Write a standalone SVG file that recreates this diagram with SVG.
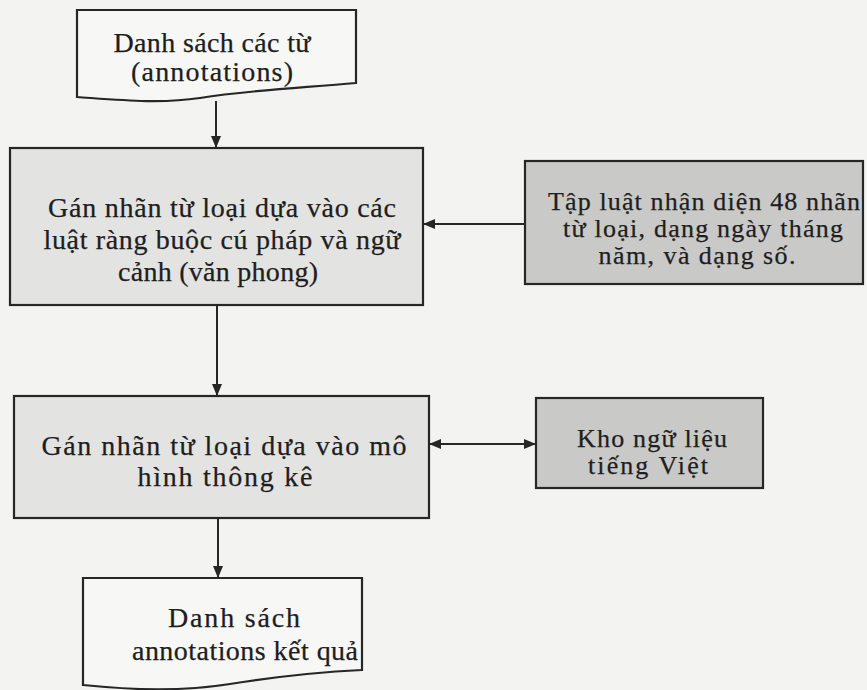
<svg xmlns="http://www.w3.org/2000/svg" width="867" height="690" viewBox="0 0 867 690">
<style>
  .t { font-family: "Liberation Serif", "Times New Roman", serif; font-size: 28px; fill: #1e1e1e; stroke: #1e1e1e; stroke-width: 0.25; }
  .s { font-size: 26px; }
  .box { stroke: #262626; stroke-width: 2.2; }
  .light { fill: #e3e3e1; }
  .dark { fill: #c9c9c7; }
  .doc { fill: #f7f7f5; stroke: #262626; stroke-width: 2.2; }
  .conn { stroke: #262626; stroke-width: 2; fill: none; }
</style>
<defs>
  <marker id="ah" viewBox="0 0 12 10" refX="11" refY="5" markerWidth="12" markerHeight="10" markerUnits="userSpaceOnUse" orient="auto-start-reverse">
    <path d="M0,0 L12,5 L0,10 Z" fill="#262626"/>
  </marker>
</defs>
<rect width="867" height="690" fill="#f3f3f1"/>

<g id="doc-input">
  <path class="doc" d="M77,10 L356,10 L356,83 C300,88 250,90 200,98 C160,104 120,100 77,97 Z"/>
  <text class="t" x="212" y="52" text-anchor="middle" textLength="197" lengthAdjust="spacing">Danh sách các từ</text>
  <text class="t" x="212" y="81" text-anchor="middle" textLength="162" lengthAdjust="spacing">(annotations)</text>
</g>

<g id="step-rules">
  <rect class="box light" x="10" y="148" width="413" height="157"/>
  <text class="t" x="222" y="217" text-anchor="middle" textLength="348" lengthAdjust="spacing">Gán nhãn từ loại dựa vào các</text>
  <text class="t" x="222" y="249" text-anchor="middle" textLength="357" lengthAdjust="spacing">luật ràng buộc cú pháp và ngữ</text>
  <text class="t" x="218" y="281" text-anchor="middle" textLength="200" lengthAdjust="spacing">cảnh (văn phong)</text>
</g>

<g id="rule-set">
  <rect class="box dark" x="525" y="161" width="338" height="123"/>
  <text class="t s" x="704" y="210" text-anchor="middle" textLength="312" lengthAdjust="spacing">Tập luật nhận diện 48 nhãn</text>
  <text class="t s" x="703" y="237" text-anchor="middle" textLength="280" lengthAdjust="spacing">từ loại, dạng ngày tháng</text>
  <text class="t s" x="697" y="264" text-anchor="middle" textLength="197" lengthAdjust="spacing">năm, và dạng số.</text>
</g>

<g id="step-stat">
  <rect class="box light" x="14" y="396" width="415" height="122"/>
  <text class="t" x="224" y="455" text-anchor="middle" textLength="365" lengthAdjust="spacing">Gán nhãn từ loại dựa vào mô</text>
  <text class="t" x="225" y="486" text-anchor="middle" textLength="175" lengthAdjust="spacing">hình thông kê</text>
</g>

<g id="corpus">
  <rect class="box dark" x="536" y="398" width="227" height="90"/>
  <text class="t s" x="652" y="447" text-anchor="middle" textLength="150" lengthAdjust="spacing">Kho ngữ liệu</text>
  <text class="t s" x="648" y="474" text-anchor="middle" textLength="120" lengthAdjust="spacing">tiếng Việt</text>
</g>

<g id="doc-output">
  <path class="doc" d="M83,578 L362,578 L362,670 C320,672 280,676 230,684 C180,692 130,690 83,685 Z"/>
  <text class="t" x="234" y="627" text-anchor="middle" textLength="132" lengthAdjust="spacing">Danh sách</text>
  <text class="t" x="245" y="660" text-anchor="middle" textLength="226" lengthAdjust="spacing">annotations kết quả</text>
</g>

<g id="connectors">
  <line class="conn" x1="216" y1="101" x2="216" y2="147" marker-end="url(#ah)"/>
  <line class="conn" x1="525" y1="224" x2="424" y2="224" marker-end="url(#ah)"/>
  <line class="conn" x1="217" y1="305" x2="217" y2="395" marker-end="url(#ah)"/>
  <line class="conn" x1="430" y1="444" x2="535" y2="444" marker-start="url(#ah)" marker-end="url(#ah)"/>
  <line class="conn" x1="218" y1="518" x2="218" y2="577" marker-end="url(#ah)"/>
</g>
</svg>
